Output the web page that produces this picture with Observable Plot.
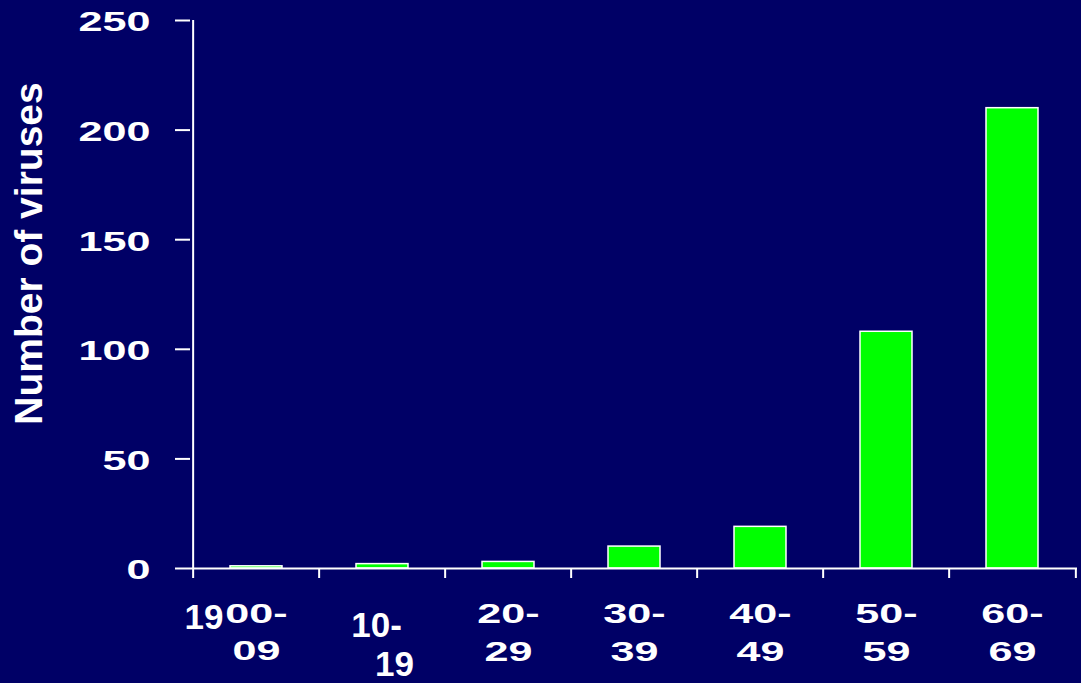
<!DOCTYPE html>
<html>
<head>
<meta charset="utf-8">
<script src="https://cdn.jsdelivr.net/npm/d3@7"></script>
<script src="https://cdn.jsdelivr.net/npm/@observablehq/plot@0.6"></script>
<style>
  html, body { margin: 0; padding: 0; background: #000066; }
  #chart { width: 1081px; height: 683px; overflow: hidden; }
</style>
</head>
<body>
<div id="chart"></div>
<script>
const decades = ["1900-09", "10-19", "20-29", "30-39", "40-49", "50-59", "60-69"];
const counts = [1, 2, 3, 10, 19, 108, 210];
const labelLine1 = ["1900-", "10-", "20-", "30-", "40-", "50-", "60-"];
const labelLine2 = ["09", "19", "29", "39", "49", "59", "69"];
const yTicks = [0, 50, 100, 150, 200, 250];
const yTitle = "Number of viruses";

const rows = decades.map((d, i) => ({decade: d, count: counts[i], line1: labelLine1[i], line2: labelLine2[i]}));
const regular = rows.slice(2);

const W = 1081, H = 683, ML = 190, MR = 4, MT = 20, MB = 115;
const step = (W - ML - MR) / decades.length;
const SX = 1.54;
const BIG = 35;
const font = "'Liberation Sans', Arial, sans-serif";

const txt = {frameAnchor: "bottom", fill: "white", fontSize: 28, fontWeight: "bold", fontFamily: font};
const big = {...txt, fontSize: BIG};

const svg = Plot.plot({
  width: W, height: H,
  marginLeft: ML, marginRight: MR, marginTop: MT, marginBottom: MB,
  style: {background: "#000066", color: "white", fontFamily: font, fontSize: "28px", fontWeight: "bold"},
  x: {domain: decades, padding: 0},
  y: {domain: [0, 250]},
  marks: [
    Plot.barY(rows, {x: "decade", y: "count", fill: "#00ff00", stroke: "white", strokeWidth: 1.5, insetLeft: 37, insetRight: 37}),
    Plot.ruleY([0], {stroke: "white", strokeWidth: 2}),
    Plot.ruleX([decades[0]], {y1: 0, y2: 250, dx: -step / 2, stroke: "white", strokeWidth: 2}),
    Plot.axisX({tickSize: 10, text: null, dx: -step / 2, stroke: "white", strokeWidth: 2, label: null}),
    Plot.axisX([decades[decades.length - 1]], {tickSize: 10, text: null, dx: step / 2, stroke: "white", strokeWidth: 2, label: null}),
    Plot.axisY(yTicks, {tickSize: 15, text: null, stroke: "white", strokeWidth: 2, label: null}),
    Plot.axisY(yTicks, {tickSize: 0, tickPadding: 40, dy: 2, fill: "white", fontSize: 28, fontWeight: "bold", label: null}),
    // x labels
    Plot.text(regular, {...txt, x: "decade", text: "line1", dy: 54}),
    Plot.text(regular, {...txt, x: "decade", text: "line2", dy: 92}),
    Plot.text([rows[0]], {...txt, x: "decade", text: d => d.line1.slice(2), dy: 54}),
    Plot.text([rows[0]], {...big, x: "decade", text: d => d.line1.slice(0, 2), textAnchor: "end", dx: -33, dy: 60}),
    Plot.text([rows[0]], {...txt, x: "decade", text: "line2", dy: 91}),
    Plot.text([rows[1]], {...big, x: "decade", text: "line1", dx: -6, dy: 68}),
    Plot.text([rows[1]], {...big, x: "decade", text: "line2", dx: 12, dy: 107}),
    // y title
    Plot.text([yTitle], {frameAnchor: "left", textAnchor: "middle", rotate: -90, dx: -161, dy: -41, fill: "white", fontSize: 39, fontWeight: "bold", fontFamily: font})
  ]
});

// widen the regular (28px, non-rotated) labels horizontally like the reference's stretched type
svg.querySelectorAll("text").forEach(t => {
  const tr = t.getAttribute("transform") || "";
  if (tr.includes("rotate")) return;
  const fsEl = t.closest("[font-size]");
  if (fsEl && String(fsEl.getAttribute("font-size")) === String(BIG)) return;
  t.setAttribute("transform", (tr ? tr + " " : "") + `scale(${SX},1)`);
});

document.getElementById("chart").appendChild(svg);
</script>
</body>
</html>
